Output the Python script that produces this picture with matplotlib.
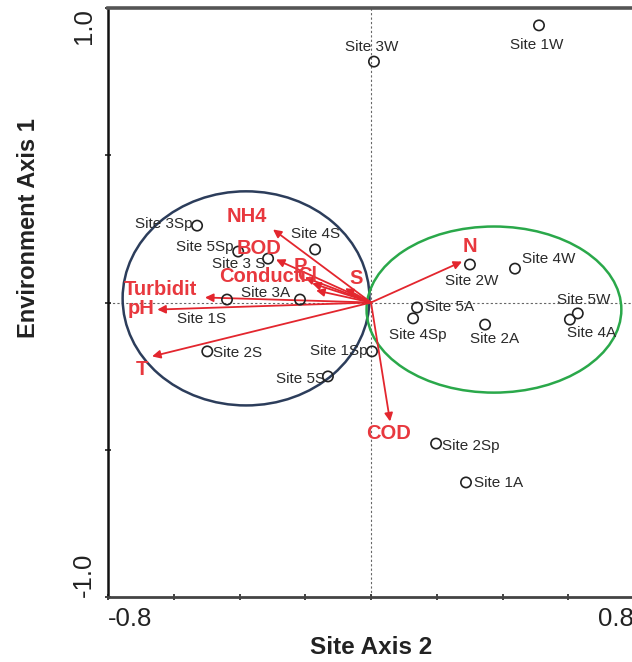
import matplotlib
matplotlib.use("Agg")
import matplotlib.pyplot as plt
from matplotlib.patches import Ellipse
from matplotlib import font_manager

# ---------------- data ----------------
site_names = ["Site 1W", "Site 3W", "Site 3Sp", "Site 5Sp", "Site 3 S", "Site 4S",
              "Site 3A", "Site 1S", "Site 2S", "Site 1Sp", "Site 5S", "Site 2W",
              "Site 4W", "Site 5A", "Site 4Sp", "Site 2A", "Site 5W", "Site 4A",
              "Site 2Sp", "Site 1A"]
site_x = [0.511, 0.009, -0.529, -0.404, -0.313, -0.170, -0.216, -0.438, -0.498, 0.003,
          -0.131, 0.301, 0.438, 0.140, 0.128, 0.347, 0.629, 0.605, 0.198, 0.289]
site_y = [0.941, 0.818, 0.261, 0.173, 0.149, 0.180, 0.010, 0.010, -0.166, -0.166,
          -0.251, 0.129, 0.115, -0.017, -0.054, -0.075, -0.037, -0.058, -0.479, -0.611]

env_names = ["NH4", "BOD", "P", "Cl", "Conducti", "S", "Turbidit", "pH", "T", "N", "COD"]
env_x = [-0.298, -0.289, -0.201, -0.179, -0.167, -0.079, -0.505, -0.650, -0.666, 0.277, 0.058]
env_y = [0.248, 0.146, 0.085, 0.065, 0.041, 0.048, 0.017, -0.024, -0.183, 0.139, -0.404]

group_centers = [(-0.380, 0.014), (0.374, -0.024)]
group_widths = [0.751, 0.775]
group_heights = [0.727, 0.564]

x_ticks = [-0.8, -0.6, -0.4, -0.2, 0.0, 0.2, 0.4, 0.6, 0.8]
y_ticks = [-1.0, -0.5, 0.0, 0.5, 1.0]

# ---------------- style / layout ----------------
site_label_offsets = [(-2, -20, "center"), (-2, 15, "center"), (-5, 2, "right"),
                      (-5, 5, "right"), (-3, -5, "right"), (0, 15, "center"),
                      (-10, 7, "right"), (-25, -19, "center"), (6, -2, "left"),
                      (-4, 0, "right"), (-3, -3, "right"), (2, -16, "center"),
                      (7, 10, "left"), (8, 1, "left"), (5, -17, "center"),
                      (9, -14, "center"), (6, 13, "center"), (22, -13, "center"),
                      (6, -2, "left"), (8, -1, "left")]
env_label_offsets = [(-26, 13), (-17, 11), (-5, 11), (-5, 8), (-54, 14), (11, 10),
                     (-45, 8), (-16, 1), (-10, -13), (8, 15), (-2, -12)]
group_colors = ["#2c3d5b", "#2aa84a"]
red = "#e3262e"
red_text = "#e8383e"

avail = {f.name for f in font_manager.fontManager.ttflist}
base_font = "Liberation Sans" if "Liberation Sans" in avail else "DejaVu Sans"
plt.rcParams["font.family"] = [base_font, "DejaVu Sans"]

fig = plt.figure(figsize=(6.32, 6.62), dpi=100)
ax = fig.add_axes([108 / 632, 65 / 662, 526 / 632, 589 / 662])
ax.set_xlim(-0.8, 0.8)
ax.set_ylim(-1.0, 1.0)

ax.axhline(0, color="#666666", lw=0.8, ls=(0, (2, 2)), zorder=1)
ax.axvline(0, color="#666666", lw=0.8, ls=(0, (2, 2)), zorder=1)

for (cx, cy), w, h, c in zip(group_centers, group_widths, group_heights, group_colors):
    ax.add_patch(Ellipse((cx, cy), w, h, fill=False, ec=c, lw=1.8, zorder=2))

for x, y, name, lab in zip(env_x, env_y, env_names, env_label_offsets):
    ax.annotate("", xy=(x, y), xytext=(0, 0),
                arrowprops=dict(arrowstyle="-|>", color=red, lw=1.3,
                                mutation_scale=12, shrinkA=0, shrinkB=0), zorder=3)
    ax.annotate(name, xy=(x, y), xytext=(lab[0], lab[1]), textcoords="offset pixels",
                ha="center", va="center", color=red_text, fontsize=14.5,
                fontweight="bold", zorder=5)

ax.scatter(site_x, site_y, s=55, facecolors="none", edgecolors="#222222",
           linewidths=1.2, zorder=4)
for x, y, name, off in zip(site_x, site_y, site_names, site_label_offsets):
    ax.annotate(name, xy=(x, y), xytext=(off[0], off[1]), textcoords="offset pixels",
                ha=off[2], va="center", color="#2a2a2a", fontsize=11, zorder=5)

# ticks
ax.set_xticks(x_ticks)
ax.set_xticklabels(["-0.8"] + [""] * 7 + ["0.8"], fontsize=18.5)
ax.set_yticks(y_ticks)
ax.set_yticklabels(["-1.0", "", "", "", "1.0"], fontsize=18.5, rotation=90)
xl = ax.get_xticklabels()
xl[0].set_ha("left")
xl[-1].set_ha("right")
yl = ax.get_yticklabels()
yl[0].set_va("bottom")
yl[-1].set_va("top")
ax.tick_params(axis="both", direction="inout", length=5, width=1.2, colors="#222222")
ax.tick_params(axis="x", pad=5)
ax.tick_params(axis="y", pad=6)

ax.spines["left"].set_linewidth(1.8)
ax.spines["left"].set_color("#111111")
ax.spines["bottom"].set_linewidth(2.0)
ax.spines["bottom"].set_color("#444444")
ax.spines["top"].set_linewidth(2.6)
ax.spines["top"].set_color("#555555")
ax.spines["right"].set_visible(False)

ax.set_xlabel("Site Axis 2", fontsize=17.5, fontweight="bold", color="#222222")
ax.xaxis.set_label_coords(0.5, -0.066)
ax.set_ylabel("Environment Axis 1", fontsize=17, fontweight="bold", color="#222222")
ax.yaxis.set_label_coords(-0.13, 0.626)

fig.savefig("out.png", dpi=100)
